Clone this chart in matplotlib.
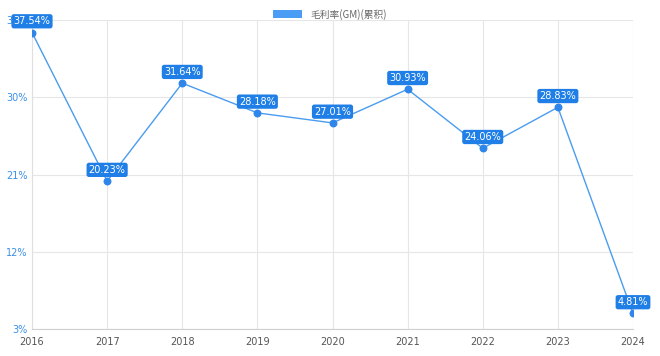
import matplotlib
matplotlib.use("Agg")
import matplotlib.pyplot as plt
from matplotlib.patches import Patch

plt.rcParams['font.family'] = ['DejaVu Sans', 'Noto Sans CJK SC']

years = ["2016", "2017", "2018", "2019", "2020", "2021", "2022", "2023", "2024"]
gm = [37.54, 20.23, 31.64, 28.18, 27.01, 30.93, 24.06, 28.83, 4.81]
yticks = [3, 12, 21, 30, 39]
series_name = "毛利率(GM)(累积)"

line_color = "#4a9cf0"
point_color = "#2f86ea"
label_bg = "#1f7fe6"

fig = plt.figure(figsize=(6.6, 3.56), dpi=100)
ax = fig.add_axes([32/660, 27/356, (633-32)/660, (329-20)/356])

x = list(range(len(years)))
ax.plot(x, gm, color=line_color, lw=1.0, zorder=3)
ax.scatter(x, gm, s=22, color=point_color, zorder=4)

for xi, v in zip(x, gm):
    ax.annotate(f"{v:.2f}%", (xi, v), xytext=(0, 4.5), textcoords="offset points",
                ha="center", va="bottom", fontsize=7, color="white", zorder=5,
                bbox=dict(boxstyle="round,pad=0.22,rounding_size=0.25", fc=label_bg, ec="none"),
                annotation_clip=False)

ax.set_xlim(0, len(years)-1)
ax.set_ylim(3, 39)
ax.set_xticks(x)
ax.set_xticklabels(years, fontsize=7, color="#555555")
ax.set_yticks(yticks)
ax.set_yticklabels([f"{t}%" for t in yticks], fontsize=7, color="#3a8ee8")
ax.tick_params(axis='both', length=0, pad=6)
ax.tick_params(axis='y', pad=3)
ax.grid(True, color="#e6e6e6", lw=0.8)
ax.set_axisbelow(True)
for s in ["top", "right"]:
    ax.spines[s].set_visible(False)
ax.spines["left"].set_color("#e0e0e0")
ax.spines["bottom"].set_color("#d0d0d0")

handle = Patch(facecolor="#4a9cf5", edgecolor="none")
fig.legend([handle], [series_name], loc="upper center", bbox_to_anchor=(0.5, 1.0),
           frameon=False, handlelength=3.0, handleheight=0.9,
           labelcolor="#666666", prop={'family': ['Noto Sans CJK SC', 'DejaVu Sans'], 'size': 7})

fig.savefig("out.png", dpi=100)
